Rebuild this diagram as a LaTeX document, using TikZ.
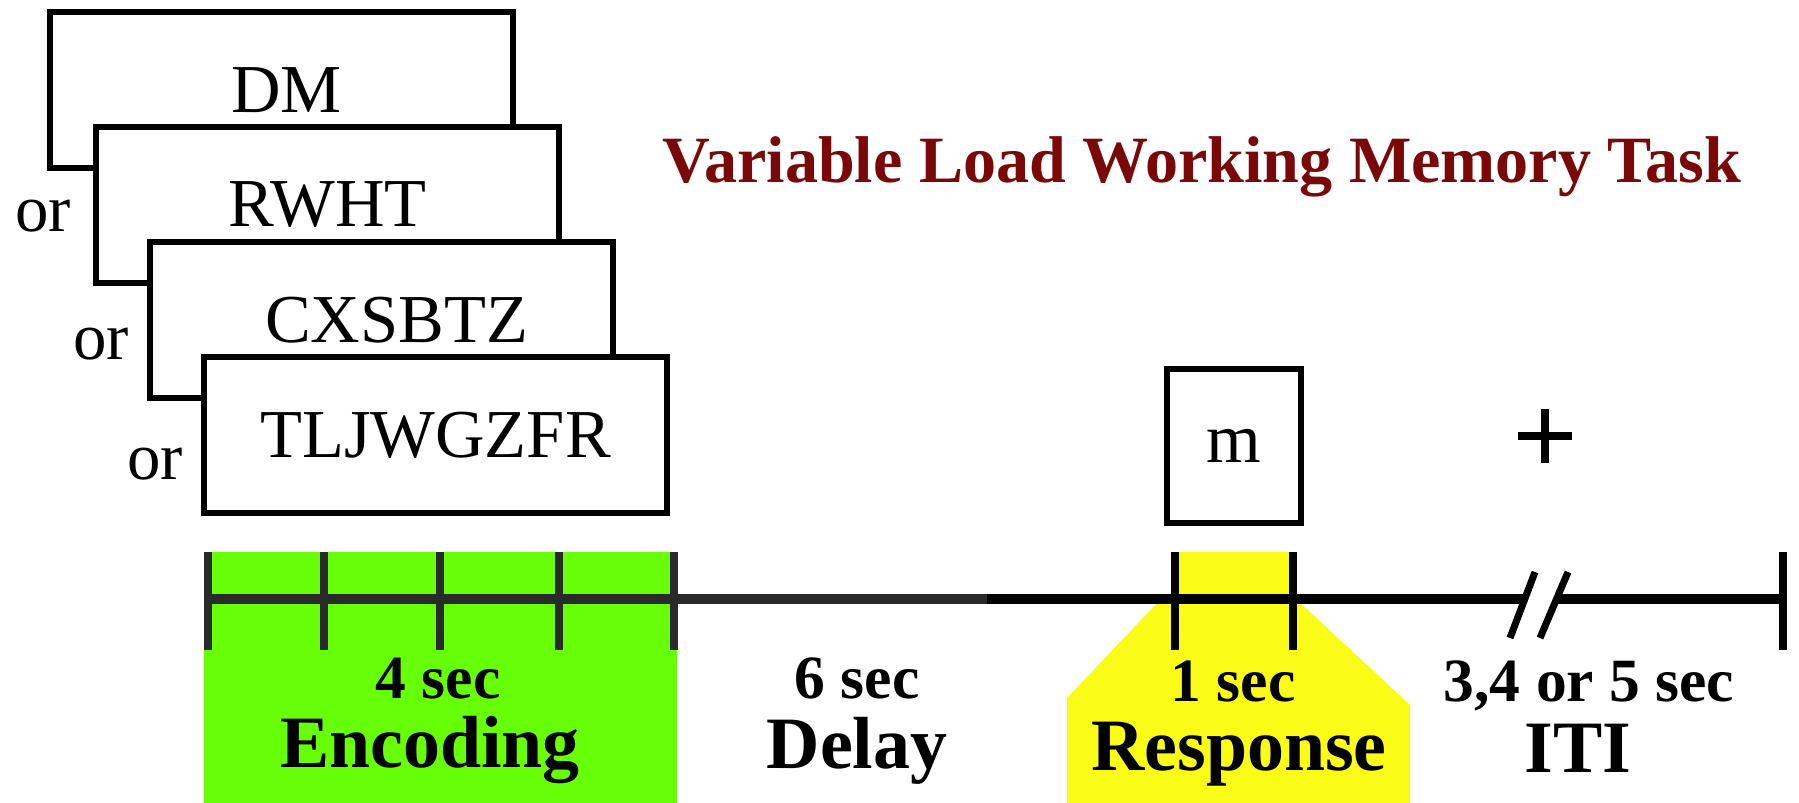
\documentclass[tikz,border=0pt]{standalone}
\usepackage{fontspec}
\setmainfont{Liberation Serif}
\definecolor{encgreen}{RGB}{102,255,8}
\definecolor{respyellow}{RGB}{250,252,24}
\definecolor{titlered}{RGB}{122,8,8}
\definecolor{axisgray}{RGB}{42,42,42}

\begin{document}
\begin{tikzpicture}[x=0.01cm, y=-0.01cm,
  card/.style={draw, line width=1.7pt, fill=white, minimum width=4.63cm, minimum height=1.56cm,
    inner sep=0pt, font=\fontsize{19.5}{21}\selectfont},
  ortext/.style={font=\fontsize{19}{21}\selectfont},
  durtext/.style={anchor=base, font=\bfseries\fontsize{17.5}{19}\selectfont},
  phasetext/.style={anchor=base, font=\bfseries\fontsize{21}{23}\selectfont},
  tickmark/.style={line width=2.3pt}]
  \useasboundingbox (0,0) rectangle (1799,803);
  % shaded phases behind the time line
  \fill[encgreen] (204,552) rectangle (677,803);
  \fill[respyellow] (1179,552) -- (1291,552) -- (1291,600) -- (1297,600) -- (1410,705) -- (1410,803)
    -- (1067,803) -- (1067,698) -- (1160,600) -- (1179,600) -- cycle;
  % memory sets of growing load, stacked from back to front
  \node[card] (load2) at (281.5,90) {\kern0.1cm DM};
  \node[card] (load4) at (327.5,205) {RWHT};
  \node[card] (load6) at (381.5,320) {\kern0.3cm CXSBTZ};
  \node[card] (load8) at (435.5,435) {TLJWGZFR};
  \node[ortext] (or4) at (43,216) {or};
  \node[ortext] (or6) at (101,344) {or};
  \node[ortext] (or8) at (155,464) {or};
  % probe and fixation
  \node[draw, line width=1.7pt, minimum width=1.34cm, minimum height=1.54cm, inner sep=0pt,
    font=\fontsize{20}{22}\selectfont] (probe) at (1234,446) {m};
  \draw[line width=2.3pt] (1518,436) -- (1572,436) (1545,409) -- (1545,463);
  \node[anchor=base, text=titlered, font=\bfseries\fontsize{18.8}{20}\selectfont] (title)
    at (1202,182) {Variable Load Working Memory Task};
  % time line with its break
  \coordinate (t0) at (208,599);
  \coordinate (tdelay) at (987,599);
  \coordinate (tbreakA) at (1525,599);
  \coordinate (tbreakB) at (1557,599);
  \coordinate (tend) at (1783,599);
  \draw[axisgray, line width=3.1pt] (t0) -- (tdelay);
  \draw[line width=3.1pt] (tdelay) -- (tbreakA) (tbreakB) -- (tend);
  \draw[line width=2pt] (1535,572) -- (1510,638) (1568,572) -- (1540,638);
  \foreach \x in {208,324,440,559,674} \draw[tickmark, axisgray] (\x,552) -- (\x,650);
  \foreach \x in {1175,1293,1783} \draw[tickmark] (\x,552) -- (\x,650);
  % durations and phase names
  \node[durtext] (encdur) at (438,698) {4 sec};
  \node[phasetext] (enc) at (430,767) {Encoding};
  \node[durtext] (delaydur) at (857,698) {6 sec};
  \node[phasetext] (delay) at (857,768) {Delay};
  \node[durtext] (respdur) at (1233,701) {1 sec};
  \node[phasetext] (resp) at (1239,770) {Response};
  \node[durtext] (itidur) at (1589,701) {3,4 or 5 sec};
  \node[phasetext] (iti) at (1578,772) {ITI};
\end{tikzpicture}
\end{document}
